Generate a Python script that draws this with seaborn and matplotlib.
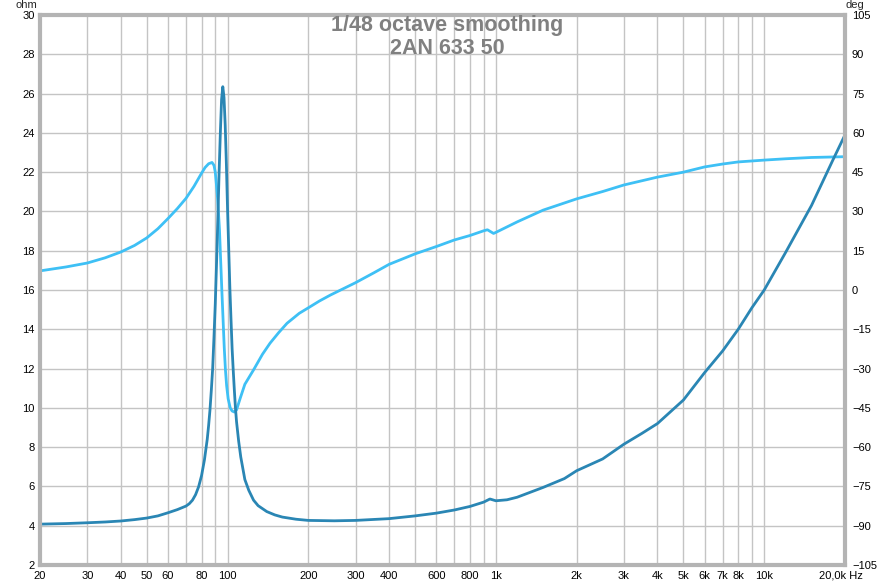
import matplotlib
matplotlib.use('Agg')
import matplotlib.pyplot as plt
import seaborn as sns
import pandas as pd

# impedance magnitude (ohm)
imp_freq = [20, 25, 30, 35, 40, 45, 50, 55, 60, 65, 70, 72, 74, 76, 78, 80,
            82, 84, 85, 86, 87, 88, 89, 90, 91, 92, 93, 94, 95, 96, 97, 98,
            99, 100, 101, 102, 103, 104, 105, 106, 107, 108, 110, 112, 116,
            120, 125, 130, 140, 150, 160, 180, 200, 250, 300, 400, 500, 600,
            700, 800, 900, 950, 1000, 1100, 1200, 1500, 1800, 2000, 2500,
            3000, 3500, 4000, 5000, 6000, 7000, 8000, 9000, 10000, 12000,
            15000, 18000, 20000]
imp_ohm = [4.08, 4.11, 4.15, 4.19, 4.24, 4.31, 4.39, 4.5, 4.66, 4.82, 5.0,
           5.12, 5.3, 5.58, 5.98, 6.55, 7.35, 8.4, 9.1, 9.9, 10.9, 12.0,
           13.6, 15.3, 17.4, 19.6, 22.0, 24.0, 25.7, 26.35, 25.8, 24.4, 22.4,
           20.1, 18.1, 16.1, 14.5, 13.0, 11.9, 10.9, 10.0, 9.3, 8.3, 7.5,
           6.35, 5.8, 5.3, 5.02, 4.72, 4.55, 4.44, 4.33, 4.27, 4.25, 4.27,
           4.36, 4.5, 4.64, 4.8, 4.98, 5.2, 5.36, 5.27, 5.32, 5.45, 5.95,
           6.4, 6.8, 7.4, 8.15, 8.7, 9.2, 10.4, 11.8, 12.9, 14.0, 15.1, 16.0,
           17.9, 20.3, 22.6, 23.9]

# impedance phase (deg)
ph_freq = [20, 25, 30, 35, 40, 45, 50, 55, 60, 65, 70, 75, 80, 82.5, 85,
           87.5, 89, 90, 90.8, 91.7, 92.5, 93.3, 94.2, 95.2, 96.2, 97.2,
           98.2, 99.2, 100.5, 102.3, 104, 106, 108, 111.5, 116, 125, 135,
           144, 155, 166.6, 185, 203, 220, 242, 300, 350, 400, 500, 600, 700,
           800, 900, 930, 980, 1000, 1200, 1500, 2000, 2500, 3000, 4000,
           5000, 6000, 7000, 8000, 10000, 12000, 15000, 20000]
ph_deg = [7.3, 8.8, 10.3, 12.3, 14.5, 17.0, 19.9, 23.4, 27.3, 31.1, 35.0,
          39.6, 44.6, 46.8, 48.2, 48.7, 47.6, 45.0, 40.7, 35.5, 29.5, 22.9,
          12.0, 0.0, -11.0, -22.0, -30.5, -36.5, -41.5, -45.0, -46.2, -46.6,
          -45.8, -41.3, -36.0, -30.5, -24.5, -20.3, -16.3, -12.7, -8.9,
          -6.4, -4.2, -1.9, 2.8, 6.5, 9.8, 13.8, 16.6, 19.1, 20.8, 22.6,
          23.0, 21.6, 22.0, 26.0, 30.5, 34.8, 37.6, 40.1, 43.1, 45.0, 47.0,
          48.1, 48.9, 49.6, 50.1, 50.6, 50.9]

x_grid = [20, 30, 40, 50, 60, 70, 80, 90, 100, 200, 300, 400, 500, 600,
          700, 800, 900, 1000, 2000, 3000, 4000, 5000, 6000, 7000, 8000,
          9000, 10000, 20000]
x_labels = ['20', '30', '40', '50', '60', '', '80', '', '100', '200', '300',
            '400', '', '600', '', '800', '', '1k', '2k', '3k', '4k', '5k',
            '6k', '7k', '8k', '', '10k', '20,0k Hz']
ohm_ticks = list(range(2, 31, 2))
deg_ticks = list(range(-105, 106, 15))

imp = pd.DataFrame({'freq': imp_freq, 'ohm': imp_ohm})
ph = pd.DataFrame({'freq': ph_freq, 'deg': ph_deg})

sns.set_style('white')
plt.rcParams['font.family'] = ['Liberation Sans', 'DejaVu Sans']

fig = plt.figure(figsize=(8.96, 5.86), dpi=100)
ax1 = fig.add_axes([40 / 896, 1 - 565 / 586, 805 / 896, 550 / 586])
ax2 = ax1.twinx()

# phase axis sits underneath so the impedance curve is drawn on top
ax2.set_zorder(1)
ax1.set_zorder(2)
ax1.patch.set_visible(False)
ax2.patch.set_visible(True)
ax2.patch.set_facecolor('white')
ax2.xaxis.set_visible(True)

sns.lineplot(data=ph, x='freq', y='deg', ax=ax2, color='#3ec0f5',
             linewidth=2, estimator=None, sort=False)
sns.lineplot(data=imp, x='freq', y='ohm', ax=ax1, color='#2a86b4',
             linewidth=2, estimator=None, sort=False)

ax1.set_xscale('log')
ax1.set_xlim(20, 20000)
ax1.set_ylim(2, 30)
ax2.set_ylim(-105, 105)

ax1.set_xticks(x_grid)
ax1.set_xticklabels(x_labels)
ax1.xaxis.set_minor_locator(matplotlib.ticker.NullLocator())
ax1.set_yticks(ohm_ticks)
ax2.set_yticks(deg_ticks)

ax2.grid(True, which='major', color='#c4c4c4', linewidth=1)
ax2.set_axisbelow(True)
ax2.tick_params(axis='x', labelbottom=False)

for a in (ax1, ax2):
    a.set_xlabel('')
    a.set_ylabel('')
    a.tick_params(length=0, labelsize=8, colors='black')
ax1.tick_params(axis='y', pad=4)
ax2.tick_params(axis='y', pad=5)
ax1.tick_params(axis='x', pad=4)

# last label sits a bit left of its gridline, like the original
last = ax1.get_xticklabels()[-1]
last.set_transform(last.get_transform() +
                   matplotlib.transforms.ScaledTranslation(-0.04, 0, fig.dpi_scale_trans))

for s in ax1.spines.values():
    s.set_color('#b4b4b4')
    s.set_linewidth(3)
for s in ax2.spines.values():
    s.set_visible(False)

fig.text(26 / 896, 1 - 5 / 586, 'ohm', fontsize=8, ha='center', va='center')
fig.text(855 / 896, 1 - 5 / 586, 'deg', fontsize=8, ha='center', va='center')

fig.text(447 / 896, 1 - 26 / 586, '1/48 octave smoothing', fontsize=15.5,
         fontweight='bold', color='#808080', ha='center', va='center')
fig.text(447 / 896, 1 - 49 / 586, '2AN 633 50', fontsize=15.5,
         fontweight='bold', color='#808080', ha='center', va='center')

fig.savefig('out.png', dpi=100)
